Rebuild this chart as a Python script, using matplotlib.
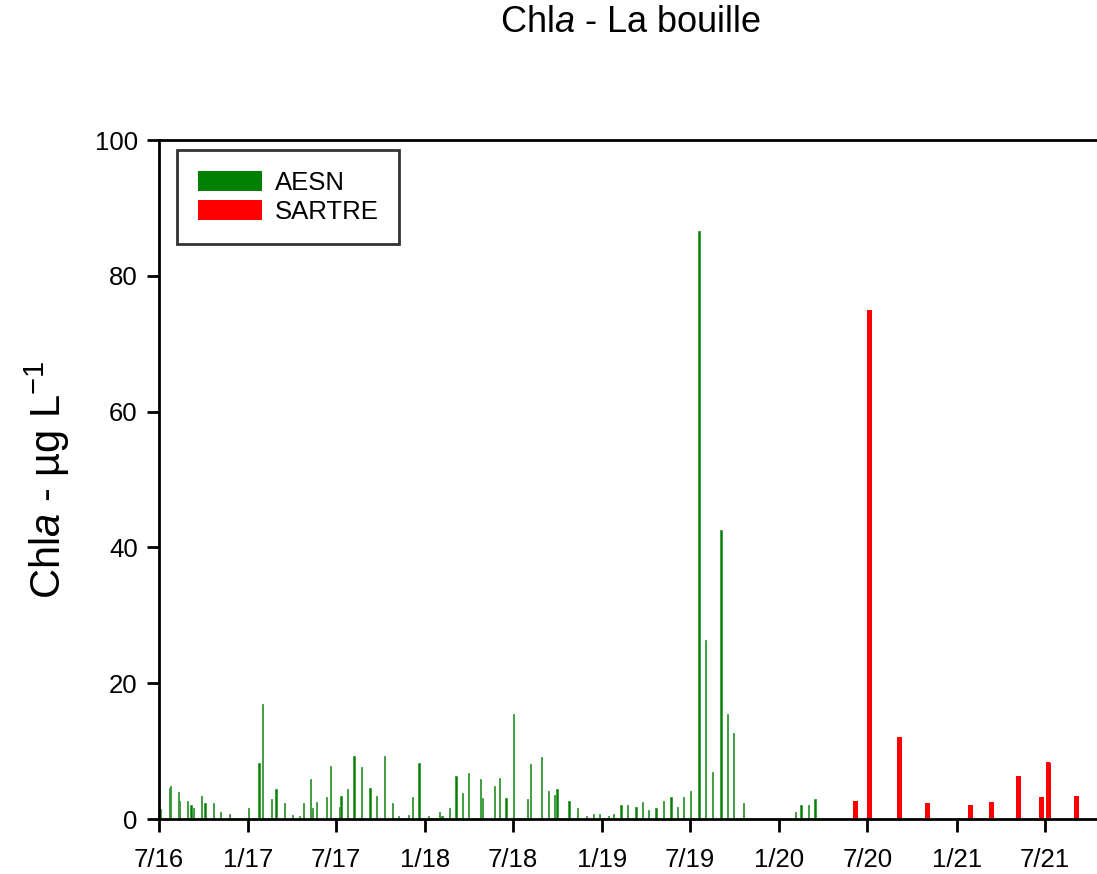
import pandas as pd
import matplotlib
matplotlib.use('Agg')
import matplotlib.pyplot as plt
import matplotlib.dates as mdates
from matplotlib.patches import Patch
from matplotlib.ticker import FuncFormatter

plt.rcParams['font.family'] = ['Liberation Sans', 'DejaVu Sans']
plt.rcParams['mathtext.fontset'] = 'custom'
plt.rcParams['mathtext.rm'] = 'Liberation Sans'
plt.rcParams['mathtext.it'] = 'Liberation Sans:italic'

# AESN monitoring (Chla, µg/L)
aesn_dates = [
    '2016-07-05', '2016-07-23', '2016-07-26', '2016-08-11', '2016-08-14', '2016-08-29',
    '2016-09-06', '2016-09-11', '2016-09-27', '2016-10-05', '2016-10-23', '2016-11-06',
    '2016-11-25', '2017-01-03', '2017-01-24', '2017-02-01', '2017-02-19', '2017-02-28',
    '2017-03-18', '2017-04-03', '2017-04-18', '2017-04-26', '2017-05-10', '2017-05-15',
    '2017-05-23', '2017-06-12', '2017-06-20', '2017-07-09', '2017-07-12', '2017-07-26',
    '2017-08-08', '2017-08-24', '2017-09-10', '2017-09-23', '2017-10-10', '2017-10-26',
    '2017-11-08', '2017-11-28', '2017-12-07', '2017-12-20', '2018-01-09', '2018-01-31',
    '2018-02-05', '2018-02-20', '2018-03-06', '2018-03-19', '2018-04-01', '2018-04-25',
    '2018-04-30', '2018-05-24', '2018-06-04', '2018-06-17', '2018-07-03', '2018-07-31',
    '2018-08-07', '2018-08-30', '2018-09-13', '2018-09-25', '2018-09-30', '2018-10-25',
    '2018-11-12', '2018-11-30', '2018-12-14', '2018-12-27', '2019-01-14', '2019-01-24',
    '2019-02-09', '2019-02-23', '2019-03-12', '2019-03-26', '2019-04-06', '2019-04-22',
    '2019-05-08', '2019-05-23', '2019-06-06', '2019-06-18', '2019-07-02', '2019-07-20',
    '2019-08-03', '2019-08-16', '2019-09-03', '2019-09-17', '2019-09-29', '2019-10-19',
    '2020-02-03', '2020-02-15', '2020-03-01', '2020-03-15',
]
aesn_chla = [
    1.5, 4.6, 4.8, 4.0, 2.7, 2.7,
    2.0, 1.6, 3.4, 2.3, 2.3, 1.0,
    0.8, 1.6, 8.3, 17.0, 2.9, 4.4,
    2.3, 0.6, 0.4, 2.3, 5.9, 1.6,
    2.5, 3.3, 7.8, 1.8, 3.4, 4.4,
    9.3, 7.6, 4.6, 3.4, 9.3, 2.3,
    0.4, 0.6, 3.3, 8.3, 0.4, 1.0,
    0.4, 1.6, 6.3, 3.8, 6.8, 5.9,
    3.1, 4.8, 6.1, 3.1, 15.5, 2.9,
    8.1, 9.1, 4.2, 3.6, 4.4, 2.7,
    1.6, 0.4, 0.8, 0.8, 0.4, 0.8,
    2.1, 2.1, 1.8, 2.5, 1.4, 1.6,
    2.7, 3.3, 1.8, 3.3, 4.2, 86.6,
    26.3, 6.9, 42.5, 15.4, 12.7, 2.3,
    1.0, 2.0, 2.1, 2.9,
]

# SARTRE campaign
sartre_dates = [
    '2020-06-07', '2020-07-06', '2020-09-05', '2020-11-02', '2021-01-30',
    '2021-03-14', '2021-05-08', '2021-06-24', '2021-07-08', '2021-07-10', '2021-09-04',
]
sartre_chla = [2.7, 75.0, 12.1, 2.3, 2.1, 2.5, 6.4, 3.2, 8.4, 8.3, 3.4]

aesn = pd.DataFrame({'date': pd.to_datetime(aesn_dates), 'chla': aesn_chla})
sartre = pd.DataFrame({'date': pd.to_datetime(sartre_dates), 'chla': sartre_chla})

fig = plt.figure(figsize=(10.97, 8.74), dpi=100)
ax = fig.add_axes([0.1445, 0.0629, 0.8555, 0.7769])

ax.bar(aesn['date'], aesn['chla'], width=2.5, color='#008000', edgecolor='#3a9a3a',
       linewidth=0.6, label='AESN')
ax.bar(sartre['date'], sartre['chla'], width=10, color='#ff0000', label='SARTRE')

ax.set_ylim(0, 100)
ax.set_xlim(pd.Timestamp('2016-07-01'), pd.Timestamp('2021-10-17'))
ax.set_yticks(range(0, 101, 20))
ax.xaxis.set_major_locator(mdates.MonthLocator(bymonth=[1, 7]))
ax.xaxis.set_major_formatter(FuncFormatter(
    lambda v, pos: '%d/%s' % (mdates.num2date(v).month, mdates.num2date(v).strftime('%y'))))

ax.spines['right'].set_visible(False)
for s in ['left', 'bottom', 'top']:
    ax.spines[s].set_linewidth(2)
ax.tick_params(axis='both', direction='out', length=9, width=2, labelsize=18.5)
ax.tick_params(axis='x', pad=12)
ax.tick_params(axis='y', pad=6)

fig.text(0.575, 0.974, 'Chl$\\it{a}$ - La bouille', fontsize=26, ha='center', va='center')
fig.text(0.043, 0.451, 'Chl$\\it{a}$ - µg L$^{-1}$', fontsize=30, rotation=90,
         ha='center', va='center')

handles = [Patch(facecolor='#008000', label='AESN'), Patch(facecolor='#ff0000', label='SARTRE')]
leg = ax.legend(handles=handles, loc='upper left', bbox_to_anchor=(0.02, 0.985),
                fontsize=18.5, frameon=True, fancybox=False, handlelength=2.5,
                handleheight=0.8, handletextpad=0.5, labelspacing=0.2, borderpad=0.8,
                borderaxespad=0)
leg.get_frame().set_edgecolor('black')
leg.get_frame().set_linewidth(2)

fig.savefig('out.png', dpi=100)
